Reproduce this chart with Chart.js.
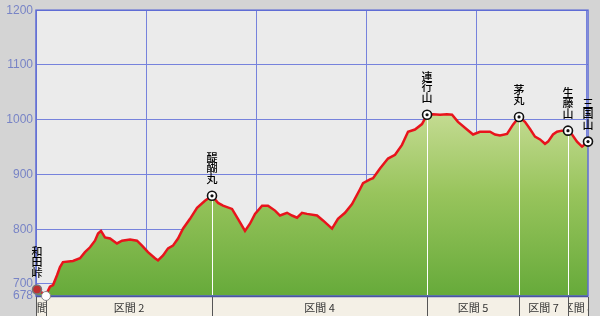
<!DOCTYPE html>
<html>
<head>
<meta charset="utf-8">
<script src="https://cdn.jsdelivr.net/npm/chart.js@4.4.0/dist/chart.umd.min.js"></script>
<style>
html, body { margin: 0; padding: 0; background: #d4d4d4; }
#wrap { width: 600px; height: 316px; }
</style>
</head>
<body>
<div id="wrap"><canvas id="prof"></canvas></div>
<script>
// distance (km) and elevation (m) of the trail profile
const dist = [0, 0.091, 0.127, 0.155, 0.191, 0.218, 0.245, 0.336, 0.4, 0.445, 0.491, 0.536, 0.564, 0.591,
  0.627, 0.673, 0.736, 0.782, 0.855, 0.918, 0.964, 1.018, 1.082, 1.109, 1.155, 1.2, 1.245, 1.291, 1.336,
  1.4, 1.464, 1.536, 1.6, 1.655, 1.7, 1.782, 1.836, 1.9, 1.945, 1.991, 2.055, 2.109, 2.173, 2.218, 2.282,
  2.327, 2.373, 2.418, 2.464, 2.555, 2.609, 2.691, 2.745, 2.809, 2.873, 2.945, 2.973, 3.036, 3.064, 3.127,
  3.2, 3.264, 3.327, 3.382, 3.445, 3.509, 3.555, 3.609, 3.673, 3.736, 3.782, 3.836, 3.918, 3.973, 4.036,
  4.127, 4.173, 4.218, 4.282, 4.336, 4.391, 4.445, 4.491, 4.536, 4.582, 4.627, 4.655, 4.7, 4.736, 4.782,
  4.836, 4.873, 4.918, 4.964, 4.991, 5.018];
const elev = [690, 680, 695, 698, 716, 731, 740, 742, 747, 758, 767, 779, 792, 797,
  785, 783, 774, 779, 781, 779, 770, 758, 747, 743, 752, 765, 770, 783, 801,
  819, 839, 852, 861, 848, 843, 837, 819, 797, 810, 828, 843, 843, 834, 825, 830,
  825, 821, 830, 828, 825, 816, 801, 819, 830, 846, 873, 884, 891, 893, 911,
  929, 936, 954, 978, 982, 992, 1009, 1010, 1009, 1010, 1009, 996, 982, 973, 978,
  978, 973, 971, 974, 991, 1005, 996, 983, 969, 964, 956, 960, 973, 978, 980,
  980, 973, 960, 951, 955, 960];

const peakName = ['和田峠', '醍醐丸', '連行山', '茅丸', '生藤山', '三国山'];
const peakKm = [0, 1.6, 3.555, 4.391, 4.836, 5.018];
const peakElev = [690, 861, 1009, 1005, 980, 960];

const secEdge = [0, 0.091, 1.6, 3.555, 4.391, 4.836, 5.018];
const secName = ['区間 1', '区間 2', '区間 4', '区間 5', '区間 7', '区間 8'];

const yTicks = [678, 700, 800, 900, 1000, 1100, 1200];
const xTicks = [0, 1, 2, 3, 4, 5];

const gridCol = '#7682dc';

const areaBg = {
  id: 'areaBg',
  beforeDraw(chart) {
    const { ctx, chartArea: a } = chart;
    ctx.save();
    ctx.fillStyle = '#ebebeb';
    ctx.fillRect(a.left, a.top, a.right - a.left, a.bottom - a.top);
    ctx.restore();
  }
};

const extras = {
  id: 'extras',
  afterDraw(chart) {
    const { ctx, chartArea: a } = chart;
    const xs = chart.scales.x, ys = chart.scales.y;
    ctx.save();

    // frame
    ctx.strokeStyle = '#5f6cd4';
    ctx.lineWidth = 1.5;
    ctx.strokeRect(a.left, a.top, a.right - a.left, a.bottom - a.top);

    // section bar
    const top = a.bottom + 1, bot = chart.height;
    ctx.fillStyle = '#f4f0e6';
    ctx.fillRect(a.left, top, a.right - a.left, bot - top);
    ctx.strokeStyle = '#4a55a0';
    ctx.lineWidth = 1.5;
    ctx.beginPath(); ctx.moveTo(a.left, a.bottom + 0.5); ctx.lineTo(a.right, a.bottom + 0.5); ctx.stroke();
    ctx.font = '11px "Noto Sans CJK JP", sans-serif';
    ctx.textAlign = 'center';
    ctx.textBaseline = 'middle';
    for (let i = 0; i < secName.length; i++) {
      const x0 = xs.getPixelForValue(secEdge[i]);
      const x1 = xs.getPixelForValue(secEdge[i + 1]);
      ctx.save();
      ctx.beginPath(); ctx.rect(x0, top, x1 - x0, bot - top); ctx.clip();
      ctx.fillStyle = '#333';
      ctx.fillText(secName[i], (x0 + x1) / 2, (top + bot) / 2 + 1);
      ctx.restore();
    }
    ctx.strokeStyle = '#555';
    ctx.lineWidth = 1;
    for (let i = 0; i < secEdge.length; i++) {
      const x = Math.round(xs.getPixelForValue(secEdge[i])) + 0.5;
      ctx.beginPath(); ctx.moveTo(x, top); ctx.lineTo(x, bot); ctx.stroke();
    }

    // peak drop lines
    ctx.strokeStyle = '#ffffff';
    ctx.lineWidth = 1;
    for (let i = 1; i < peakKm.length - 1; i++) {
      const x = Math.round(xs.getPixelForValue(peakKm[i])) + 0.5;
      ctx.beginPath(); ctx.moveTo(x, ys.getPixelForValue(peakElev[i])); ctx.lineTo(x, a.bottom - 1); ctx.stroke();
    }

    // start point at the bottom
    const sx = xs.getPixelForValue(secEdge[1]), sy = a.bottom;
    ctx.fillStyle = '#fff';
    ctx.strokeStyle = '#888';
    ctx.lineWidth = 1;
    ctx.beginPath(); ctx.arc(sx, sy, 4.5, 0, Math.PI * 2); ctx.fill(); ctx.stroke();

    // peaks
    ctx.font = '500 11px "Noto Sans CJK JP", sans-serif';
    for (let i = 0; i < peakName.length; i++) {
      const x = xs.getPixelForValue(peakKm[i]);
      const y = ys.getPixelForValue(peakElev[i]);
      if (i === 0) {
        ctx.fillStyle = '#c03030';
        ctx.strokeStyle = '#777';
        ctx.lineWidth = 1.5;
        ctx.beginPath(); ctx.arc(x + 1, y, 4.5, 0, Math.PI * 2); ctx.fill(); ctx.stroke();
      } else {
        ctx.fillStyle = '#fff';
        ctx.strokeStyle = '#111';
        ctx.lineWidth = 1.6;
        ctx.beginPath(); ctx.arc(x, y, 4.5, 0, Math.PI * 2); ctx.fill(); ctx.stroke();
        ctx.fillStyle = '#111';
        ctx.beginPath(); ctx.arc(x, y, 1.6, 0, Math.PI * 2); ctx.fill();
      }
      const chars = Array.from(peakName[i]);
      ctx.fillStyle = '#000';
      for (let k = 0; k < chars.length; k++) {
        const cy = y - 17 - (chars.length - 1 - k) * 10.5;
        ctx.fillText(chars[k], x + (i === 0 ? 1 : 0), cy);
      }
    }
    ctx.restore();
  }
};

new Chart('prof', {
  type: 'line',
  data: {
    datasets: [{
      data: dist.map((d, i) => ({ x: d, y: elev[i] })),
      borderColor: '#e8141c',
      borderWidth: 2.5,
      pointRadius: 0,
      tension: 0,
      fill: 'start',
      backgroundColor: (c) => {
        const a = c.chart.chartArea;
        if (!a) return '#8cc050';
        const g = c.chart.ctx.createLinearGradient(0, a.top + 100, 0, a.bottom);
        g.addColorStop(0, '#c6dc94');
        g.addColorStop(0.45, '#98c45c');
        g.addColorStop(1, '#66aa3a');
        return g;
      }
    }]
  },
  options: {
    responsive: true,
    maintainAspectRatio: false,
    animation: false,
    layout: { padding: { top: 7, right: 12, bottom: 20, left: 0 } },
    plugins: { legend: { display: false }, tooltip: { enabled: false } },
    scales: {
      x: {
        type: 'linear',
        min: 0,
        max: 5.018,
        z: 1,
        afterBuildTicks: (s) => { s.ticks = xTicks.map(v => ({ value: v })); },
        afterFit: (s) => { s.height = 0; },
        ticks: { display: false },
        grid: { color: gridCol, lineWidth: 1, drawTicks: false },
        border: { display: false }
      },
      y: {
        min: 678,
        max: 1200,
        z: 1,
        afterBuildTicks: (s) => { s.ticks = yTicks.map(v => ({ value: v })); },
        afterFit: (s) => { s.width = 36; },
        ticks: {
          color: '#7884c6',
          padding: 3,
          callback: (v) => String(v),
          font: { family: '"Liberation Sans", Arial, sans-serif', size: 12 }
        },
        grid: { color: gridCol, lineWidth: 1, drawTicks: false },
        border: { display: false }
      }
    }
  },
  plugins: [areaBg, extras]
});
</script>
</body>
</html>
